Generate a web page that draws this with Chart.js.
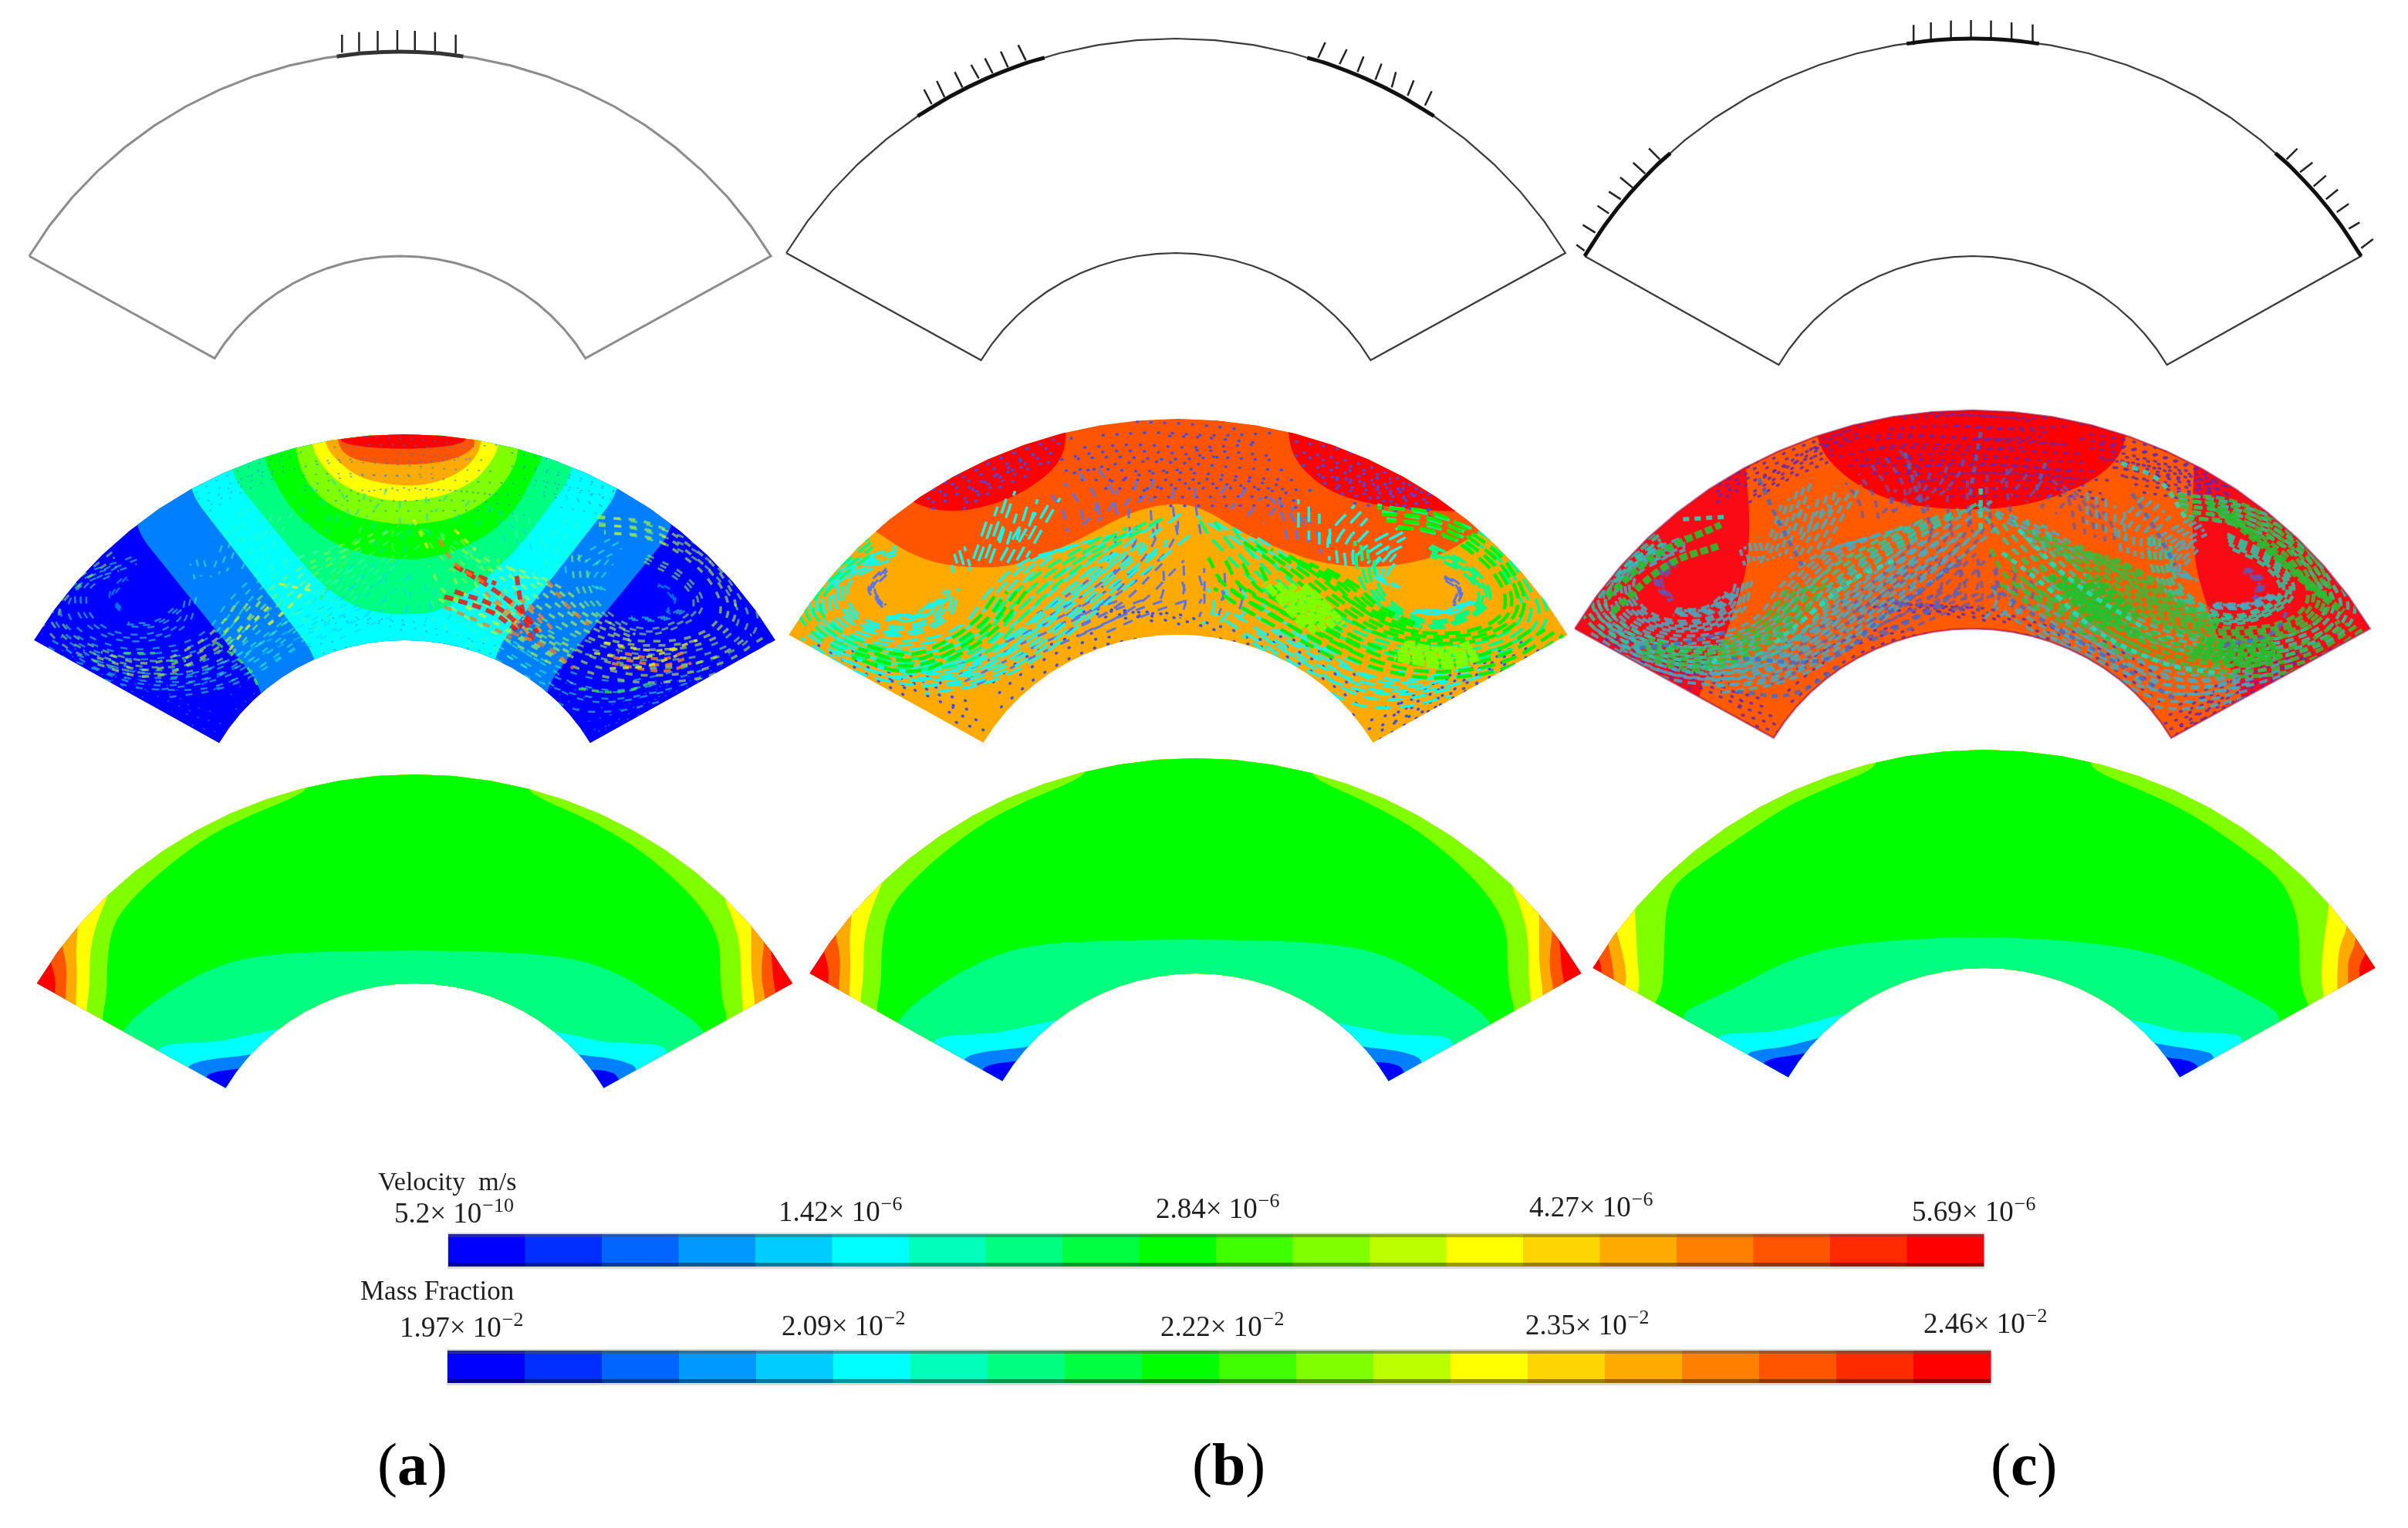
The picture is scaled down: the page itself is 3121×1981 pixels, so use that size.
<!DOCTYPE html>
<html><head><meta charset="utf-8">
<style>html,body{margin:0;padding:0;background:#fff}canvas{display:block}</style>
<script src="https://cdn.jsdelivr.net/npm/chart.js@4"></script></head>
<body><canvas id="c" width="3121" height="1981"></canvas>
<script>
// ---------- fan outline, unit circle readings (half, mirrored) ----------
const ARC_SIN=[0,.0872,.1736,.2588,.3420,.4226,.5,.5736,.6428,.7071,.7660,.8192,.8660];
const ARC_COS=[1,.9962,.9848,.9659,.9397,.9063,.8660,.8192,.7660,.7071,.6428,.5736,.5];
// ---------- panel placement ----------
const A1={cx:518.5,cy:597,sx:555,sy:530},B1={cx:1524,cy:606,sx:583,sy:556},C1={cx:2557,cy:614,sx:581,sy:564};
const A2={cx:524.5,cy:1097,sx:555,sy:534},B2={cx:1527,cy:1103,sx:583,sy:560},C2={cx:2556.5,cy:1098,sx:595,sy:566};
const A3={cx:537.5,cy:1546,sx:566,sy:542},B3={cx:1549.5,cy:1541,sx:578,sy:558},C3={cx:2571.5,cy:1538,sx:586,sy:566};
// ---------- row 1 load hatches [baseX,baseY,tipX,tipY] in crop units ----------
const HATCH_A=[[662,205,662,135],[695,200,695,125],[731,197,731,120],[769,195,769,117],[803,197,803,120],[842,200,842,125],[882,208,882,135]];
const HATCH_B=[[313,405,298,348],[338,378,323,315],[373,340,358,280],[405,305,390,252],[432,285,417,227],[462,262,448,200],[497,235,482,175],[1068,225,1082,165],[1110,250,1124,192],[1145,280,1157,220],[1180,310,1192,248],[1212,340,1220,280],[1243,372,1255,313],[1277,410,1290,355]];
const HATCH_C=[[656,175,656,97],[688,160,688,87],[725,152,725,80],[762,150,762,78],[799,152,799,80],[837,160,837,87],[876,172,876,95],[48,975,33,952],[68,905,45,875],[93,830,72,800],[115,775,93,745],[137,730,114,690],[160,675,138,633],[187,620,167,577],[1345,620,1365,578],[1370,670,1393,632],[1395,725,1418,683],[1418,775,1440,737],[1438,825,1460,793],[1460,890,1480,865],[1483,965,1505,930]];
// heavy arc stretches, as positions along ARC_SIN (fractions allowed), by side
const HEAVY_TOP=[-1.7,-1,0,1,1.7];
const HEAVY_B_SIDE=[3.4,4,5,6,7];
const HEAVY_C_SIDE=[8.5,9,10,11,12];
// ---------- row 2 (a) velocity contours ----------
const VA_0080=[[260,555],[510,1180],[510,1500],[1055,1500],[1055,1170],[1305,555],[1305,0],[260,0]];
const VA_00FF=[[365,410],[615,1060],[615,1500],[955,1500],[955,1040],[1200,410],[1200,0],[365,0]];
const VA_00F8=[[445,345],[560,630],[620,770],[690,870],[780,895],[860,875],[930,770],[1000,640],[1110,345],[1110,0],[445,0]];
const VA_00G=[[510,275],[530,370],[570,500],[640,610],[710,660],[790,680],[860,660],[940,590],[1000,480],[1045,300],[1050,270],[1050,0],[510,0]];
const VA_80G=[[570,230],[585,350],[620,440],[680,510],[780,545],[880,520],[950,440],[990,340],[1005,255],[1005,0],[570,0]];
const VA_YEL=[[600,225],[625,320],[670,400],[740,445],[790,450],[860,430],[920,370],[950,300],[968,230],[968,0],[600,0]];
const VA_ORG=[[625,215],[650,290],[700,365],[790,395],[860,370],[910,310],[935,225],[935,0],[625,0]];
const VA_DOR=[[650,200],[665,270],[710,300],[790,310],[870,295],[915,250],[920,210],[920,0],[650,0]];
const VA_RED=[[650,205],[680,235],[780,248],[880,235],[910,205],[910,0],[650,0]];
// ---------- row 2 (b) velocity contours ----------
const VB_DOR=[[200,565],[260,650],[330,700],[430,710],[500,680],[590,600],[680,500],[740,465],[790,458],[840,490],[900,570],[980,640],[1060,695],[1170,710],[1280,665],[1340,590],[1400,520],[1400,0],[150,0],[150,520]];
const VB_RED1=[[260,440],[300,480],[370,492],[460,440],[530,350],[560,270],[565,180],[565,100],[200,100],[200,440]];
const VB_RED2=[[990,185],[1000,280],[1040,370],[1090,430],[1170,470],[1285,490],[1400,490],[1400,100],[990,100]];
// ---------- row 2 (c) velocity contours ----------
const VC_DOR=[[345,300],[355,550],[345,750],[320,900],[295,1050],[255,1200],[255,1450],[1290,1450],[1260,1180],[1230,1050],[1205,900],[1175,700],[1170,500],[1175,300],[1175,100],[345,100]];
const VC_RED=[[475,200],[500,300],[560,400],[640,465],[750,485],[860,470],[960,400],[1020,320],[1050,220],[1050,60],[475,60]];
// ---------- flow traces read from row 2 (b), crop units ----------
const VORTEX_L=[240,820],VORTEX_R=[1280,820];
const FLOW_LOW=[[[220,710],[190,790],[215,860]],[[1290,740],[1320,790],[1310,860]],[[790,700],[790,800],[780,850]],[[820,740],[830,830],[820,900]],[[370,1150],[500,1020],[660,860],[750,690]],[[600,960],[690,880],[760,830]],[[740,520],[735,600],[700,700],[640,800],[560,900]],[[590,340],[620,430],[630,520]],[[700,370],[690,430],[660,500]],[[770,400],[770,480],[780,600]],[[910,400],[880,480]],[[970,440],[1000,520],[1010,620]]];
const FLOW_DOT=[[[700,140],[800,150],[900,170]],[[600,240],[700,230],[800,240],[920,230]],[[580,340],[680,300],[780,300],[900,320],[1000,330]],[[640,400],[770,400],[910,400],[1000,420]],[[1020,260],[1100,290],[1190,350],[1260,430]],[[1020,310],[1100,340],[1200,400],[1270,460]],[[1060,380],[1150,410],[1240,460]],[[300,440],[420,300],[540,210]],[[370,440],[470,320],[550,250]],[[90,1010],[180,1120],[260,1210]],[[340,1270],[410,1310]],[[200,1090],[340,1220]],[[1150,1300],[1230,1250],[1370,1140],[1470,1030]],[[1170,1340],[1300,1190],[1420,1070]],[[440,1250],[520,1120],[620,1020],[700,985]],[[860,985],[960,1030],[1050,1130],[1130,1250]],[[640,900],[720,880],[800,920],[850,950]]];
const FLOW_CYAN=[[[450,440],[430,560],[405,700]],[[530,465],[500,570],[470,680]],[[360,640],[370,710]],[[490,470],[470,600]],[[1130,490],[1085,600],[1085,690]],[[1210,570],[1150,640],[1130,680]],[[1030,470],[1030,600]],[[1190,640],[1160,730],[1190,780]],[[1230,880],[1300,880],[1345,840]],[[200,670],[130,770],[150,900],[240,960],[330,900],[350,790]],[[240,640],[110,750],[90,880],[170,1000],[290,1020],[390,950],[450,800],[530,660],[620,600]],[[120,1030],[260,1120],[390,1080],[470,960],[600,740],[700,590],[745,520]],[[70,970],[180,1100],[320,1140],[420,1100],[530,960],[640,770],[720,630]],[[290,1170],[400,1130],[490,1040],[590,880],[700,700],[760,600]],[[1380,1090],[1280,1150],[1180,1170],[1060,1100],[950,970],[880,880]],[[1300,1180],[1200,1220],[1120,1200],[1040,1100],[950,990]],[[870,790],[880,860],[860,920]],[[930,960],[960,1000],[1040,1100]],[[850,530],[920,620],[970,700]],[[220,905],[280,900],[330,830]]];
const FLOW_TEAL=[[[1130,620],[1140,760],[1180,860],[1250,930],[1320,910],[1370,830],[1340,720],[1260,630]],[[190,610],[80,800],[70,900],[150,1020],[290,1080],[400,1020],[470,880],[560,720],[650,610],[720,530]],[[1170,490],[1290,540],[1390,640],[1450,780],[1470,900],[1420,1000],[1300,1050],[1180,1020],[1060,920],[960,780],[880,620],[850,530]]];
const FLOW_GREEN=[[[1170,500],[1270,520],[1350,610],[1410,730],[1430,860],[1390,950],[1290,990],[1180,960],[1090,860],[1000,720],[930,620]],[[1500,960],[1420,1060],[1310,1110],[1190,1090],[1080,1000],[980,880],[900,780],[870,680]],[[880,790],[930,860],[1000,940],[1100,1050]],[[1010,680],[1090,770],[1140,860],[1240,960]],[[160,1040],[260,1090],[340,1040],[420,930],[470,800]]];
const FLOW_LIME=[[[990,800],[1030,880],[1060,950]],[[1200,1040],[1300,1070],[1350,1040]],[[970,770],[1010,860],[1040,930]]];
// extra traces in row 2 (a), crop units, with their colour
const EXTRA_A_RED=[[[880,700],[960,800],[1020,900],[1040,960]],[[860,820],[950,880],[1000,950]],[[1000,740],[1010,860],[1030,990]],[[900,720],[960,770]],[[880,800],[960,860],[1010,940]]];
const EXTRA_A_ORG=[[[850,600],[880,690],[940,770]],[[1060,760],[1100,860],[1140,930]],[[860,860],[930,920],[990,980]],[[990,960],[1060,1020],[1110,1100]]];
const EXTRA_A_YEL=[[[540,770],[610,800]],[[600,770],[560,860],[520,930]],[[520,860],[470,960],[440,1040]],[[1170,1000],[1280,1030],[1350,990]],[[1150,1040],[1230,1060],[1320,1020]],[[1180,1100],[1250,1090],[1310,1050]],[[800,520],[830,640]],[[880,560],[920,640]]];
const EXTRA_A_GRN=[[[330,1070],[360,1070]],[[240,1040],[300,1040]],[[700,550],[660,700],[620,830]],[[760,560],[760,700]],[[1120,1180],[1200,1190],[1270,1150]],[[420,1000],[480,1100],[500,1170]]];
// extra traces in row 2 (c), crop units
const EXTRA_C_GRN=[[[1200,450],[1300,620],[1400,800],[1450,880]],[[1240,500],[1340,680],[1420,830]],[[100,880],[200,700],[300,620]],[[90,820],[180,660],[300,540]],[[930,770],[1000,880],[1080,980]]];
const EXTRA_C_TEAL=[[[820,650],[900,780],[1000,960],[1120,1080],[1220,1120]],[[400,1000],[470,880],[540,760],[620,680]],[[1040,300],[1110,370],[1160,520]],[[230,520],[310,510]],[[290,1060],[280,1110]],[[780,400],[780,560]],[[850,560],[950,760],[1080,940]]];
const EXTRA_C_STEEL=[[[320,1060],[500,1060],[600,900],[720,720]],[[710,720],[750,690]],[[800,780],[900,920],[1000,1040],[1140,1220]],[[370,360],[400,500],[450,700]],[[640,260],[660,400],[680,520]],[[780,180],[770,300],[760,430]],[[1060,420],[1100,550],[1140,700]],[[330,1190],[430,1200],[520,1090]],[[580,990],[680,880],[740,800]],[[900,300],[880,420]],[[1230,1010],[1320,960],[1350,860]],[[150,1020],[230,1000],[310,960]]];
// ---------- row 3 mass-fraction contours, left/right boundaries ----------
const M_DOR_L=[[97,770],[97,800],[107,870],[105,925]],M_DOR_R=[[1478,770],[1480,800],[1482,870],[1488,925]];
const M_ORG_L=[[118,735],[127,800],[128,870],[125,940]],M_ORG_R=[[1465,745],[1460,800],[1460,880],[1468,945]];
const M_YEL_L=[[150,665],[145,760],[148,850],[145,960]],M_YEL_R=[[1440,670],[1440,760],[1440,850],[1448,965]];
const M_LIM_L=[[213,520],[190,620],[172,750],[172,900],[165,990]],M_LIM_R=[[1385,545],[1405,630],[1420,750],[1420,900],[1425,990]];
const M_GRN_L=[[600,115],[560,165],[480,230],[400,310],[320,430],[250,560],[215,660],[205,800],[205,930],[195,1020]],M_GRN_R=[[1005,125],[1040,170],[1120,240],[1210,340],[1290,470],[1350,600],[1380,720],[1380,850],[1385,960],[1395,1020]];
const M_SPR=[[215,1120],[240,1060],[260,1010],[320,920],[400,830],[470,785],[560,765],[790,755],[1000,765],[1110,790],[1190,850],[1270,950],[1340,1040],[1360,1120],[1360,1500],[215,1500]];
const M_CYA1=[[300,1150],[315,1122],[380,1115],[430,1108],[470,1088],[520,1068],[560,1050],[560,1400],[300,1400]],M_CYA2=[[1075,1078],[1110,1090],[1150,1110],[1200,1118],[1260,1120],[1285,1150],[1285,1400],[1040,1400],[1040,1060]];
const M_AZU1=[[355,1215],[375,1190],[420,1175],[475,1165],[500,1150],[500,1400],[355,1400]],M_AZU2=[[1115,1165],[1160,1172],[1200,1190],[1225,1215],[1225,1400],[1090,1400],[1090,1150]];
const M_BLU1=[[390,1250],[410,1228],[450,1218],[470,1215],[470,1400],[390,1400]],M_BLU2=[[1130,1220],[1160,1222],[1190,1245],[1195,1400],[1110,1400],[1110,1220]];
// row 3 (c) reads slightly differently
const N_DOR_L=[[42,835],[42,855],[52,900],[52,950]],N_DOR_R=[[1505,835],[1505,855],[1492,900],[1492,945]];
const N_ORG_L=[[62,805],[72,880],[77,960]],N_ORG_R=[[1488,810],[1470,880],[1470,960]];
const N_YEL_L=[[78,755],[88,820],[97,900],[100,960],[95,990]],N_YEL_R=[[1470,760],[1455,820],[1450,900],[1450,995]];
const N_LIM_L=[[115,665],[118,760],[120,880],[125,970],[120,1025]],N_LIM_R=[[1435,675],[1425,790],[1420,900],[1420,980],[1425,1025]];
const N_GRN_L=[[580,108],[560,150],[480,215],[400,290],[320,400],[240,510],[190,590],[175,680],[172,800],[170,950],[165,1010],[152,1060],[140,1090]],N_GRN_R=[[975,115],[1000,160],[1080,225],[1170,310],[1270,450],[1340,560],[1370,680],[1378,800],[1378,950],[1385,1010],[1395,1060],[1400,1090]];
const N_SPR=[[205,1110],[215,1075],[300,1000],[400,890],[480,840],[560,815],[700,795],[830,795],[980,815],[1100,855],[1180,915],[1320,1060],[1345,1110],[1345,1500],[205,1500]];
const N_CYA1=[[270,1190],[285,1170],[370,1165],[420,1145],[490,1105],[540,1080],[540,1400],[270,1400]],N_CYA2=[[1060,1118],[1110,1140],[1150,1165],[1250,1168],[1275,1192],[1275,1400],[1020,1400],[1020,1090]];
const N_AZU1=[[325,1250],[345,1235],[400,1222],[440,1200],[480,1180],[480,1400],[325,1400]],N_AZU2=[[1105,1208],[1140,1220],[1190,1235],[1220,1252],[1220,1400],[1070,1400],[1070,1190]];
const N_BLU1=[[355,1290],[375,1265],[420,1255],[450,1240],[450,1400],[355,1400]],N_BLU2=[[1125,1265],[1160,1270],[1190,1295],[1190,1400],[1100,1400],[1100,1240]];
// ---------- colour scale ----------
const LEVELS=['#0000ff','#0030ff','#0066ff','#0099ff','#00ccff','#00ffff','#00ffbb','#00ff80','#00ff40','#00ff00','#40ff00','#80ff00','#bbff00','#ffff00','#ffd500','#ffaa00','#ff8000','#ff5500','#ff2b00','#ff0000'];
const VELOCITY_TICKS=[['5.2× 10','−10',511,1585],['1.42× 10','−6',1009,1583],['2.84× 10','−6',1498,1579],['4.27× 10','−6',1982,1577],['5.69× 10','−6',2478,1583]];
const MASS_TICKS=[['1.97× 10','−2',518,1733],['2.09× 10','−2',1013,1731],['2.22× 10','−2',1504,1732],['2.35× 10','−2',1977,1730],['2.46× 10','−2',2493,1728]];
const PANEL_LABELS=[['a',489,1925],['b',1545,1925],['c',2580,1925]];

// ---------- mapping helpers ----------
const crop=(ox,oy,fx)=>([x,y])=>[ox+x/fx,oy+y/3];
const viaUnit=(from,to)=>([X,Y])=>[to.cx+to.sx*(X-from.cx)/from.sx,to.cy+to.sy*(Y-from.cy)/from.sy];
const chain=(f,g)=>p=>g(f(p));
const xy=([x,y])=>({x,y});
function fan(p){
  const o=[],n=ARC_SIN.length;
  for(let i=n-1;i>=0;i--)o.push([-ARC_SIN[i],-ARC_COS[i]]);
  for(let i=1;i<n;i++)o.push([ARC_SIN[i],-ARC_COS[i]]);
  for(let i=n-1;i>=0;i--)o.push([ARC_SIN[i]/2,-ARC_COS[i]/2]);
  for(let i=1;i<n;i++)o.push([-ARC_SIN[i]/2,-ARC_COS[i]/2]);
  o.push(o[0]);
  return o.map(([u,v])=>[p.cx+p.sx*u,p.cy+p.sy*v]);
}
const base={showLine:true,pointRadius:0,borderWidth:0,fill:false,tension:0};
const poly=(pts,color,clip,round)=>({...base,data:pts.map(xy),shapeColor:color,clipTo:clip,round});
const line=(pts,color,w,extra={})=>({...base,data:pts.map(xy),borderColor:color,borderWidth:w,...extra});
const band=(L,R)=>[[L[0][0],-200],...L,[L[L.length-1][0],1500],[R[R.length-1][0],1500],...[...R].reverse(),[R[0][0],-200]];
const arcPts=(p,idx,sign)=>idx.map(i=>{
  const s=i<0?-1:1,k=Math.abs(i),a=Math.floor(k),b=Math.min(a+1,ARC_SIN.length-1),t=k-a;
  const u=ARC_SIN[a]+(ARC_SIN[b]-ARC_SIN[a])*t,v=ARC_COS[a]+(ARC_COS[b]-ARC_COS[a])*t;
  return [p.cx+p.sx*sign*s*u,p.cy-p.sy*v];
});

const ds=[];
// row 1
[[A1,'#8c8c8c',3],[B1,'#3a3a3a',2.2],[C1,'#3a3a3a',2.2]].forEach(([p,c,w])=>ds.push(line(fan(p),c,w)));
const cropA1=crop(0,0,1.4933),cropB1=crop(1000,0,1.5077),cropC1=crop(2020,0,1.4255);
const ticks=(arr,f,c,w)=>arr.forEach(([a,b,d,e])=>ds.push(line([f([a,b]),f([d,e])],c,w)));
ticks(HATCH_A,cropA1,'#222',2.5);ticks(HATCH_B,cropB1,'#222',2.5);ticks(HATCH_C,cropC1,'#222',2.5);
ds.push(line(arcPts(A1,HEAVY_TOP,1),'#333',5,{tension:.3}));
ds.push(line(arcPts(B1,HEAVY_B_SIDE,-1),'#111',5,{tension:.3}));
ds.push(line(arcPts(B1,HEAVY_B_SIDE,1),'#111',5,{tension:.3}));
ds.push(line(arcPts(C1,HEAVY_TOP,1),'#111',5,{tension:.3}));
ds.push(line(arcPts(C1,HEAVY_C_SIDE,-1),'#111',5,{tension:.3}));
ds.push(line(arcPts(C1,HEAVY_C_SIDE,1),'#111',5,{tension:.3}));

// row 2
const flowSets=[FLOW_DOT,FLOW_LOW,FLOW_CYAN,FLOW_TEAL,FLOW_GREEN,FLOW_LIME];
const flowFrame=crop(1000,500,1.479);
// nest each trace around its side's vortex so it forms a bundle of parallel paths
function nested(tr,k){
  const mean=tr.reduce((s,p)=>s+p[0],0)/tr.length, C=mean<780?VORTEX_L:VORTEX_R;
  return tr.map(([x,y])=>[C[0]+k*(x-C[0]),C[1]+k*(y-C[1])]);
}
function flows(panel,style,bundle){
  const clip=fan(panel),f=chain(flowFrame,viaUnit(B2,panel));
  flowSets.forEach((set,i)=>set.forEach(tr=>bundle.forEach((k,j)=>ds.push(line(nested(tr,k).map(f),style[i][0],style[i][1],{tension:.4,borderDash:style[i][2],borderDashOffset:j*7,clipTo:clip,borderCapStyle:i==0?'round':'butt'})))));
}
function extra(panel,f,set,color,w,dash){const clip=fan(panel);set.forEach(tr=>ds.push(line(tr.map(f),color,w,{tension:.4,borderDash:dash,clipTo:clip})));}
// (a)
{const f=crop(0,500,1.4933),clip=fan(A2);
 ds.push(poly(fan(A2),'#0000ff',clip));
 [[VA_0080,'#0080ff'],[VA_00FF,'#00ffff'],[VA_00F8,'#00ff80'],[VA_00G,'#00ff00'],[VA_80G,'#80ff00'],[VA_YEL,'#ffff00'],[VA_ORG,'#ffaa00'],[VA_DOR,'#ff5500'],[VA_RED,'#ff0000']].forEach(([a,c])=>ds.push(poly(a.map(f),c,clip,30)));
 flows(A2,[['rgba(0,130,255,.55)',2,[1,14]],['rgba(0,210,255,.5)',2.5,[9,13]],['rgba(60,255,170,.5)',2.5,[9,12]],['rgba(150,255,60,.55)',3,[9,12]],['rgba(200,255,40,.6)',3.5,[9,11]],['rgba(255,130,30,.8)',4,[9,8]]],[1,.9,1.1]);
 extra(A2,f,EXTRA_A_RED,'rgba(240,20,20,.85)',6,[12,7]);
 extra(A2,f,EXTRA_A_ORG,'rgba(250,120,30,.75)',4.5,[10,8]);
 extra(A2,f,EXTRA_A_YEL,'rgba(230,240,30,.8)',3.5,[8,9]);
 extra(A2,f,EXTRA_A_GRN,'rgba(60,240,60,.75)',3.5,[9,8]);
}
// (b)
{const f=crop(1000,500,1.479),clip=fan(B2);
 ds.push(poly(fan(B2),'#ffaa00',clip));
 [[VB_DOR,'#ff5500'],[VB_RED1,'#ff0000'],[VB_RED2,'#ff0000']].forEach(([a,c])=>ds.push(poly(a.map(f),c,clip,40)));
 flows(B2,[['#3e4df0',3.5,[1,17]],['#5a74ea',3,[13,11]],['#18f4e8',3.5,[20,11]],['#00ff80',4,[20,10]],['#00f000',4.5,[20,9]],['#80ff00',9,[16,3]]],[1,.92,1.08,.84]);
}
// (c)
{const f=crop(2020,500,1.4255),clip=fan(C2);
 ds.push(poly(fan(C2),'#fa0a14',clip));
 [[VC_DOR,'#ff5a00'],[VC_RED,'#ff0000']].forEach(([a,c])=>ds.push(poly(a.map(f),c,clip,40)));
 flows(C2,[['rgba(90,40,190,.8)',3.5,[2,12]],['rgba(90,90,190,.7)',4,[9,7]],['rgba(70,170,190,.85)',4,[11,7]],['rgba(40,200,160,.85)',4.5,[11,7]],['rgba(50,190,60,.85)',5,[11,6]],['rgba(40,190,40,.9)',8,[10,4]]],[1,.93,1.07,.86,1.14]);
 extra(C2,f,EXTRA_C_STEEL,'rgba(70,105,200,.8)',5,[8,7]);
 extra(C2,f,EXTRA_C_TEAL,'rgba(30,225,190,.85)',5.5,[8,7]);
 extra(C2,f,EXTRA_C_GRN,'rgba(40,190,50,.9)',9,[10,4]);
 ds.push(line(fan(C2),'rgba(170,20,70,.65)',2.5));
}
// row 3
function massPanel(panel,f,s){
  const clip=fan(panel);
  ds.push(poly(fan(panel),'#ff0000',clip));
  s.forEach(([a,c])=>ds.push(poly(a.map(f),c,clip,45)));
}
const massA=[[band(M_DOR_L,M_DOR_R),'#ff5500'],[band(M_ORG_L,M_ORG_R),'#ffaa00'],[band(M_YEL_L,M_YEL_R),'#ffff00'],[band(M_LIM_L,M_LIM_R),'#80ff00'],[band(M_GRN_L,M_GRN_R),'#00ff00'],[M_SPR,'#00ff80'],[M_CYA1,'#00ffff'],[M_CYA2,'#00ffff'],[M_AZU1,'#0080ff'],[M_AZU2,'#0080ff'],[M_BLU1,'#0000ff'],[M_BLU2,'#0000ff']];
const massC=[[band(N_DOR_L,N_DOR_R),'#ff5500'],[band(N_ORG_L,N_ORG_R),'#ffaa00'],[band(N_YEL_L,N_YEL_R),'#ffff00'],[band(N_LIM_L,N_LIM_R),'#80ff00'],[band(N_GRN_L,N_GRN_R),'#00ff00'],[N_SPR,'#00ff80'],[N_CYA1,'#00ffff'],[N_CYA2,'#00ffff'],[N_AZU1,'#0080ff'],[N_AZU2,'#0080ff'],[N_BLU1,'#0000ff'],[N_BLU2,'#0000ff']];
const fA3=crop(0,980,1.479);
massPanel(A3,fA3,massA);
massPanel(B3,chain(fA3,viaUnit(A3,B3)),massA);
massPanel(C3,crop(2040,950,1.4654),massC);
// colour scales
const rect=(x0,x1,y0,y1)=>[[x0,y0],[x1,y0],[x1,y1],[x0,y1]];
function bar(x0,x1,y0,y1){
  ds.push(poly(rect(x0-1,x1+1,y0-2,y1+3),'rgba(150,150,150,.35)'));
  LEVELS.forEach((c,i)=>ds.push(poly(rect(x0+(x1-x0)*i/LEVELS.length,x0+(x1-x0)*(i+1)/LEVELS.length+.5,y0,y1),c)));
  ds.push(poly(rect(x0,x1,y0,y0+4),'rgba(80,80,80,.5)'));
  ds.push(poly(rect(x0,x1,y1-5,y1),'rgba(0,0,0,.4)'));
}
bar(581,2571,1600,1642);
bar(580,2580,1751,1793);
ds.reverse(); // Chart.js paints the first dataset last

function tracePath(ctx,pts,r){
  const n=pts.length;
  if(!r){pts.forEach((p,i)=>{i?ctx.lineTo(p.x,p.y):ctx.moveTo(p.x,p.y);});ctx.closePath();return;}
  const toward=(a,b)=>{const d=Math.hypot(b.x-a.x,b.y-a.y)||1,t=Math.min(d/2,r)/d;return {x:a.x+(b.x-a.x)*t,y:a.y+(b.y-a.y)*t};};
  for(let i=0;i<n;i++){
    const p=pts[i],prev=pts[(i+n-1)%n],next=pts[(i+1)%n],s=toward(p,prev),e=toward(p,next);
    i?ctx.lineTo(s.x,s.y):ctx.moveTo(s.x,s.y);
    ctx.quadraticCurveTo(p.x,p.y,e.x,e.y);
  }
  ctx.closePath();
}
const shapePlugin={id:'shape',
  beforeDatasetDraw(chart,{index,meta}){
    const d=chart.data.datasets[index],{ctx,scales:{x,y}}=chart;
    if(!d.clipTo&&!d.shapeColor)return;
    ctx.save();
    if(d.clipTo){
      ctx.beginPath();
      d.clipTo.forEach(([a,b],i)=>{const X=x.getPixelForValue(a),Y=y.getPixelForValue(b);i?ctx.lineTo(X,Y):ctx.moveTo(X,Y);});
      ctx.closePath();ctx.clip();
    }
    if(d.shapeColor){
      ctx.beginPath();tracePath(ctx,meta.data,d.round);
      ctx.fillStyle=d.shapeColor;ctx.fill();
    }
  },
  afterDatasetDraw(chart,{index}){
    const d=chart.data.datasets[index];
    if(d.clipTo||d.shapeColor)chart.ctx.restore();
  },
  afterDraw(chart){
    const {ctx,scales:{x,y}}=chart;
    ctx.save();ctx.textBaseline='alphabetic';ctx.fillStyle='#1e1e1e';
    const S="'Liberation Serif'";
    const put=(t,X,Y,font)=>{ctx.font=font;ctx.fillText(t,x.getPixelForValue(X),y.getPixelForValue(Y));return ctx.measureText(t).width;};
    put('Velocity  m/s',490,1543,`34px ${S}`);
    put('Mass Fraction',467,1685,`35px ${S}`);
    [...VELOCITY_TICKS,...MASS_TICKS].forEach(([b,s,X,Y])=>{const w=put(b,X,Y,`37px ${S}`);put(s,X+w+1,Y-14,`26px ${S}`);});
    ctx.fillStyle='#000';
    PANEL_LABELS.forEach(([l,X,Y])=>{
      let w=put('(',X,Y,`78px ${S}`);
      const w2=put(l,X+w,Y,`bold 78px ${S}`);
      put(')',X+w+w2,Y,`78px ${S}`);
    });
    ctx.restore();
  }
};
new Chart(document.getElementById('c'),{
  type:'scatter',
  data:{datasets:ds},
  plugins:[shapePlugin],
  options:{responsive:false,animation:false,events:[],
    layout:{padding:0},
    plugins:{legend:{display:false},tooltip:{enabled:false}},
    scales:{x:{type:'linear',display:false,min:0,max:3121},y:{type:'linear',display:false,min:0,max:1981,reverse:true}}}
});
</script></body></html>
